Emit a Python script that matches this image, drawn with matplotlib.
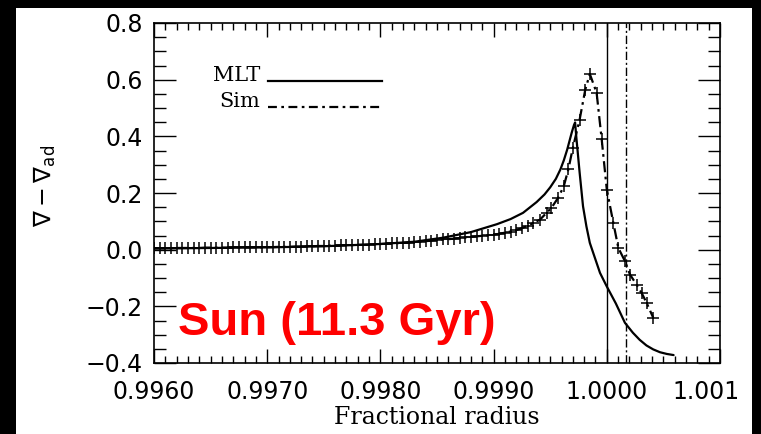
import numpy as np
import matplotlib
matplotlib.use("Agg")
import matplotlib.pyplot as plt
from matplotlib.patches import Rectangle
from matplotlib.ticker import MultipleLocator, FixedLocator, FixedFormatter
from matplotlib.transforms import ScaledTranslation

# MLT model (solid line)
mlt_r = [0.99600, 0.99650, 0.99700, 0.99750, 0.99800, 0.99830, 0.99855, 0.99880,
         0.99903, 0.99915, 0.99926, 0.99938, 0.99945, 0.99950, 0.99955, 0.99959,
         0.99962, 0.99965, 0.99969, 0.99971, 0.99972, 0.99973, 0.99976, 0.99979,
         0.99982, 0.99985, 0.99990, 0.99994, 1.00000, 1.00008, 1.00016, 1.00023,
         1.00029, 1.00035, 1.00041, 1.00047, 1.00053, 1.00059]
mlt_g = [0.004, 0.006, 0.008, 0.012, 0.020, 0.028, 0.042, 0.062,
         0.090, 0.108, 0.130, 0.168, 0.195, 0.220, 0.250, 0.283,
         0.315, 0.353, 0.413, 0.440, 0.449, 0.400, 0.272, 0.153,
         0.082, 0.024, -0.035, -0.082, -0.130, -0.190, -0.258, -0.293,
         -0.318, -0.338, -0.352, -0.362, -0.368, -0.372]

# simulation (dash-dot with + markers)
sim_r = [0.99600, 0.99605, 0.99610, 0.99615, 0.99620, 0.99625, 0.99630, 0.99635, 0.99640, 0.99645,
         0.99650, 0.99655, 0.99660, 0.99665, 0.99670, 0.99675, 0.99680, 0.99685, 0.99690, 0.99695,
         0.99700, 0.99705, 0.99710, 0.99715, 0.99720, 0.99725, 0.99730, 0.99735, 0.99740, 0.99745,
         0.99750, 0.99755, 0.99760, 0.99765, 0.99770, 0.99775, 0.99780, 0.99785, 0.99790, 0.99795,
         0.99800, 0.99805, 0.99810, 0.99815, 0.99820, 0.99825, 0.99830, 0.99835, 0.99840, 0.99845,
         0.99850, 0.99855, 0.99860, 0.99865, 0.99870, 0.99875, 0.99880, 0.99885, 0.99890, 0.99895,
         0.99900, 0.99905, 0.99910, 0.99915, 0.99920, 0.99925, 0.99930, 0.99935, 0.99941, 0.99947,
         0.99951, 0.99957, 0.99962, 0.99966, 0.99970, 0.99976, 0.99981, 0.99985, 0.99991, 0.999955,
         1.00000, 1.000058, 1.000102, 1.000161, 1.000205, 1.000264, 1.000308, 1.000352, 1.000411]
sim_g = [0.005, 0.005, 0.005, 0.005, 0.006, 0.006, 0.006, 0.006, 0.006, 0.007,
         0.007, 0.007, 0.007, 0.007, 0.008, 0.008, 0.008, 0.008, 0.008, 0.008,
         0.009, 0.009, 0.010, 0.010, 0.010, 0.011, 0.011, 0.012, 0.012, 0.013,
         0.013, 0.014, 0.014, 0.015, 0.015, 0.016, 0.017, 0.017, 0.018, 0.019,
         0.020, 0.021, 0.022, 0.023, 0.024, 0.025, 0.027, 0.028, 0.030, 0.032,
         0.034, 0.036, 0.037, 0.039, 0.041, 0.043, 0.045, 0.047, 0.049, 0.051,
         0.053, 0.056, 0.060, 0.064, 0.069, 0.076, 0.084, 0.094, 0.106, 0.131,
         0.147, 0.183, 0.224, 0.283, 0.359, 0.459, 0.565, 0.620, 0.554, 0.389,
         0.212, 0.094, 0.006, -0.041, -0.088, -0.124, -0.153, -0.188, -0.241]

# vertical markers (base of convection zone / surface)
vline_mlt = 1.0000
vline_sim = 1.00017

xticks = [0.9960, 0.9970, 0.9980, 0.9990, 1.0000, 1.0010]
xticklabels = ["0.9960", "0.9970", "0.9980", "0.9990", "1.0000", "1.001"]
yticks = [-0.4, -0.2, 0.0, 0.2, 0.4, 0.6, 0.8]
yticklabels = ["\u22120.4", "\u22120.2", "0.0", "0.2", "0.4", "0.6", "0.8"]

W, H = 761, 434
fig = plt.figure(figsize=(W / 100, H / 100), dpi=100, facecolor="black")
fig.patches.append(Rectangle((16 / W, 0), (752 - 16) / W, (H - 8) / H,
                             transform=fig.transFigure, facecolor="white",
                             edgecolor="none", zorder=-10))

ax = fig.add_axes([154 / W, (H - 363) / H, (720 - 154) / W, (363 - 23) / H])
ax.set_zorder(5)
ax.set_facecolor("white")

ax.plot(mlt_r, mlt_g, color="black", lw=1.6, solid_capstyle="round")
ax.plot(sim_r, sim_g, color="black", lw=1.6, linestyle=(0, (5, 2, 1.2, 2)),
        marker="+", ms=8, mew=1.1)
ax.axvline(vline_mlt, color="black", lw=1.0)
ax.axvline(vline_sim, color="black", lw=1.0, linestyle=(0, (6, 2, 1.5, 2)))

# legend drawn in data coordinates like the original
serif = "DejaVu Serif"
ax.text(0.99694, 0.597, "MLT", family=serif, fontsize=15, ha="right", va="baseline")
ax.plot([0.99701, 0.99801], [0.597, 0.597], color="black", lw=1.6)
ax.text(0.99694, 0.502, "Sim", family=serif, fontsize=15, ha="right", va="baseline")
ax.plot([0.99701, 0.99801], [0.502, 0.502], color="black", lw=1.6,
        linestyle=(0, (4, 2, 1.2, 2)))

ax.set_xlim(0.9960, 1.0010)
ax.set_ylim(-0.4, 0.8)

ax.xaxis.set_major_locator(FixedLocator(xticks))
ax.xaxis.set_major_formatter(FixedFormatter(xticklabels))
ax.xaxis.set_minor_locator(MultipleLocator(0.0001))
ax.yaxis.set_major_locator(FixedLocator(yticks))
ax.yaxis.set_major_formatter(FixedFormatter(yticklabels))
ax.yaxis.set_minor_locator(MultipleLocator(0.05))

ax.tick_params(axis="x", which="both", direction="in", top=True, bottom=True,
               labelsize=17, pad=12, width=1.0, color="black")
ax.tick_params(axis="x", which="major", length=10)
ax.tick_params(axis="x", which="minor", length=5)
ax.tick_params(axis="y", which="both", direction="in", left=True, right=True,
               labelsize=17, pad=8, width=1.0, color="black")
ax.tick_params(axis="y", which="major", length=16)
ax.tick_params(axis="y", which="minor", length=8.5)
for sp in ax.spines.values():
    sp.set_linewidth(1.2)

# last x label sits a little left of its tick in the original
last = ax.get_xticklabels()[-1]
last.set_transform(last.get_transform() + ScaledTranslation(-14 / 100, 0, fig.dpi_scale_trans))

ax.set_xlabel("Fractional radius", family=serif, fontsize=17, labelpad=2)
ax.set_ylabel(r"$\nabla - \nabla_{\rm ad}$", fontsize=17)
ax.yaxis.set_label_coords(-0.17, 0.52)

ax.text(0.042, 0.082, "Sun (11.3 Gyr)", transform=ax.transAxes, color="#ff0000",
        family="Liberation Sans", fontweight="bold", fontsize=34, va="baseline")

fig.savefig("out.png", dpi=100, facecolor=fig.get_facecolor())
